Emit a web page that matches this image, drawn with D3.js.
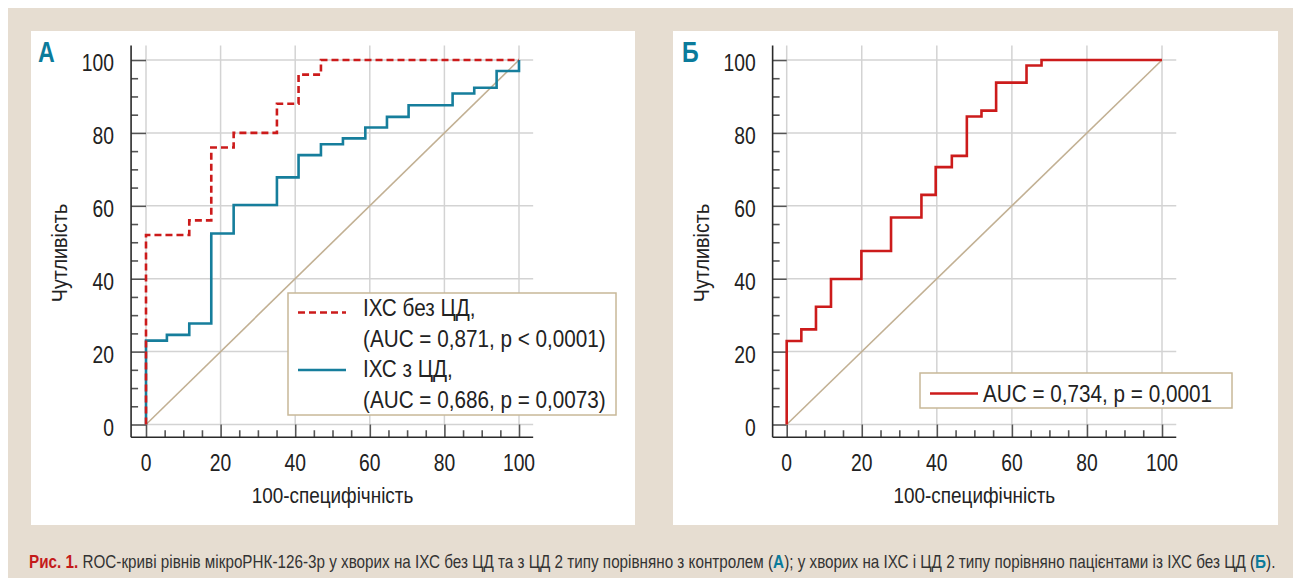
<!DOCTYPE html>
<html><head><meta charset="utf-8">
<script src="https://cdn.jsdelivr.net/npm/d3@7"></script>
<style>body{margin:0;background:#fff}svg{display:block}text{font-family:"Liberation Sans",Arial,sans-serif}</style>
</head><body><svg id="c" width="1301" height="586"></svg>
<script>
// ---- data ----
const majorTicks = [0, 20, 40, 60, 80, 100];
const tickLabels = ["0", "20", "40", "60", "80", "100"];
const minorTicks = [5, 10, 15, 25, 30, 35, 45, 50, 55, 65, 70, 75, 85, 90, 95];

// Panel A: IHD without DM (red dashed)
const aNoDmX = [0, 0, 11.6, 17.5, 23.5, 35.1, 40.9, 46.9, 100];
const aNoDmY = [0, 52, 56, 76, 80, 88, 96, 100, 100];
// Panel A: IHD with DM (blue)
const aDmX = [0, 0, 5.6, 11.6, 17.5, 23.5, 35.1, 40.9, 46.9, 52.8, 58.8, 64.6, 70.4, 82.2, 88.0, 94.0, 100];
const aDmY = [0, 23, 24.6, 27.7, 52.4, 60.2, 67.8, 73.9, 76.9, 78.5, 81.5, 84.4, 87.6, 90.8, 92.4, 97.0, 100];
// Panel B
const bX = [0, 0, 3.9, 7.8, 11.8, 19.9, 27.8, 35.9, 39.7, 44.0, 48.0, 51.9, 55.8, 63.9, 67.9, 100];
const bY = [0, 22.9, 26.1, 32.3, 39.9, 47.6, 56.8, 63.0, 70.6, 73.7, 84.5, 86.1, 93.8, 98.5, 100, 100];

const legendA = ["ІХС без ЦД,", "(AUC = 0,871, p < 0,0001)", "ІХС з ЦД,", "(AUC = 0,686, p = 0,0073)"];
const legendB = ["AUC = 0,734, p = 0,0001"];
const xTitle = "100-специфічність";
const yTitle = "Чутливість";
const panelLetters = ["А", "Б"];

const RED = "#cc1b1b", BLUE = "#167e9c", TAN = "#c2b093", TEAL = "#0b7b9b";

const svg = d3.select("#c");
svg.append("rect").attr("x", 8).attr("y", 8).attr("width", 1285).attr("height", 570).attr("fill", "#e6ddd1");
svg.append("rect").attr("x", 31).attr("y", 31).attr("width", 604).attr("height", 494).attr("fill", "#fff");
svg.append("rect").attr("x", 673).attr("y", 31).attr("width", 605).attr("height", 494).attr("fill", "#fff");

function txt(g, x, y, s, o) {
  const tr = `translate(${x},${y})` + (o.rot ? ` rotate(${o.rot})` : "") + ` scale(${o.sx || 1},1)`;
  return g.append("text").attr("transform", tr)
    .attr("text-anchor", o.anchor || "start")
    .attr("font-size", o.size)
    .attr("font-weight", o.weight || "normal")
    .attr("fill", o.fill || "#222").text(s);
}

function panel(cfg) {
  const g = svg.append("g");
  const x = d3.scaleLinear().domain([0, 100]).range(cfg.xr);
  const y = d3.scaleLinear().domain([0, 100]).range([424.5, 60]);
  const xMin = -cfg.pad, xMax = 103.8, yMin = -3.5, yMax = 104;

  // grid
  g.selectAll(".gv").data(majorTicks).join("line")
    .attr("x1", d => x(d)).attr("x2", d => x(d)).attr("y1", y(0)).attr("y2", y(yMax))
    .attr("stroke", "#d3d3d3").attr("stroke-width", 1.5);
  g.selectAll(".gh").data(majorTicks).join("line")
    .attr("y1", d => y(d)).attr("y2", d => y(d)).attr("x1", x(0)).attr("x2", x(xMax))
    .attr("stroke", "#d3d3d3").attr("stroke-width", 1.5);

  // axes (ticks pointing inward)
  const ax0 = x(xMin), ay0 = y(yMin);
  const yMajor = d3.axisRight(y).tickValues(majorTicks).tickSize(x(0) - ax0).tickFormat("");
  const yMinor = d3.axisRight(y).tickValues(minorTicks).tickSize(7).tickFormat("");
  const xMajor = d3.axisTop(x).tickValues(majorTicks).tickSize(ay0 - y(0)).tickFormat("");
  const xMinor = d3.axisTop(x).tickValues(minorTicks).tickSize(7).tickFormat("");
  [yMajor, yMinor].forEach(a => {
    const s = g.append("g").attr("transform", `translate(${ax0},0)`).call(a);
    s.select(".domain").remove();
    s.selectAll("line").attr("stroke", "#555").attr("stroke-width", 1.6);
  });
  [xMajor, xMinor].forEach(a => {
    const s = g.append("g").attr("transform", `translate(0,${ay0})`).call(a);
    s.select(".domain").remove();
    s.selectAll("line").attr("stroke", "#555").attr("stroke-width", 1.6);
  });
  g.append("line").attr("x1", ax0).attr("x2", ax0).attr("y1", ay0).attr("y2", y(yMax))
    .attr("stroke", "#2a2a2a").attr("stroke-width", 1.6);
  g.append("line").attr("x1", ax0).attr("x2", x(xMax)).attr("y1", ay0).attr("y2", ay0)
    .attr("stroke", "#2a2a2a").attr("stroke-width", 1.6);

  // tick labels
  majorTicks.forEach((t, i) => {
    txt(g, ax0 - 17, y(t) + 11, tickLabels[i], {size: 23, sx: 0.84, anchor: "end"});
    txt(g, x(t), ay0 + 33.5, tickLabels[i], {size: 23, sx: 0.84, anchor: "middle"});
  });
  // titles
  txt(g, (x(0) + x(100)) / 2, 503, xTitle, {size: 22, sx: 0.86, anchor: "middle"});
  txt(g, ax0 - 64, 253, yTitle, {size: 22, sx: 0.9, anchor: "middle", rot: -90});
  txt(g, cfg.letterX, 62, cfg.letter, {size: 29, sx: 0.8, weight: "bold", fill: TEAL});

  // diagonal
  g.append("line").attr("x1", x(0)).attr("y1", y(0)).attr("x2", x(100)).attr("y2", y(100))
    .attr("stroke", TAN).attr("stroke-width", 1.6);

  const line = d3.line().x(d => x(d[0])).y(d => y(d[1])).curve(d3.curveStepAfter);
  cfg.series.forEach(s => {
    g.append("path").attr("d", line(d3.zip(s.xs, s.ys))).attr("fill", "none")
      .attr("stroke", s.color).attr("stroke-width", 2.6)
      .attr("stroke-dasharray", s.dash || null);
  });

  // legend
  const L = cfg.legend;
  g.append("rect").attr("x", L.x).attr("y", L.y).attr("width", L.w).attr("height", L.h)
    .attr("fill", "#fff").attr("stroke", "#c8b898").attr("stroke-width", 1.5);
  L.items.forEach(it => {
    g.append("line").attr("x1", L.x + 10).attr("x2", L.x + 58).attr("y1", it.ly).attr("y2", it.ly)
      .attr("stroke", it.color).attr("stroke-width", 2.6).attr("stroke-dasharray", it.dash || null);
    it.lines.forEach((s, k) => txt(g, L.x + L.tx, it.base + k * 30.5, s, {size: 23, sx: 0.9}));
  });
}

panel({
  xr: [146, 519], pad: 4, letter: panelLetters[0], letterX: 38,
  series: [
    {xs: aDmX, ys: aDmY, color: BLUE},
    {xs: aNoDmX, ys: aNoDmY, color: RED, dash: "7,4"}
  ],
  legend: {x: 288, y: 293, w: 328, h: 122, tx: 75, items: [
    {color: RED, dash: "7,4", ly: 312.5, base: 316, lines: [legendA[0], legendA[1]]},
    {color: BLUE, ly: 370, base: 377, lines: [legendA[2], legendA[3]]}
  ]}
});
panel({
  xr: [786.7, 1162], pad: 3.75, letter: panelLetters[1], letterX: 682,
  series: [{xs: bX, ys: bY, color: RED}],
  legend: {x: 920, y: 373, w: 312, h: 35, tx: 63, items: [
    {color: RED, ly: 393.5, base: 401.5, lines: legendB}
  ]}
});

// caption: natural text, then squeezed horizontally to the reference width
const capParts = [
  {t: "Рис. 1.", b: true, c: "#c41a1a"},
  {t: " ROC-криві рівнів мікроРНК-126-3p у хворих на ІХС без ЦД та з ЦД 2 типу порівняно з контролем ("},
  {t: "А", b: true, c: TEAL},
  {t: "); у хворих на ІХС і ЦД 2 типу порівняно пацієнтами із ІХС без ЦД ("},
  {t: "Б", b: true, c: TEAL},
  {t: ")."}
];
const cap = svg.append("text").attr("font-size", 17.5).attr("fill", "#333");
capParts.forEach(p => cap.append("tspan").attr("font-weight", p.b ? "bold" : "normal")
  .attr("fill", p.c || "#333").text(p.t));
const natural = cap.node().getComputedTextLength();
cap.attr("transform", `translate(29,568) scale(${1247 / natural},1)`);
</script></body></html>
